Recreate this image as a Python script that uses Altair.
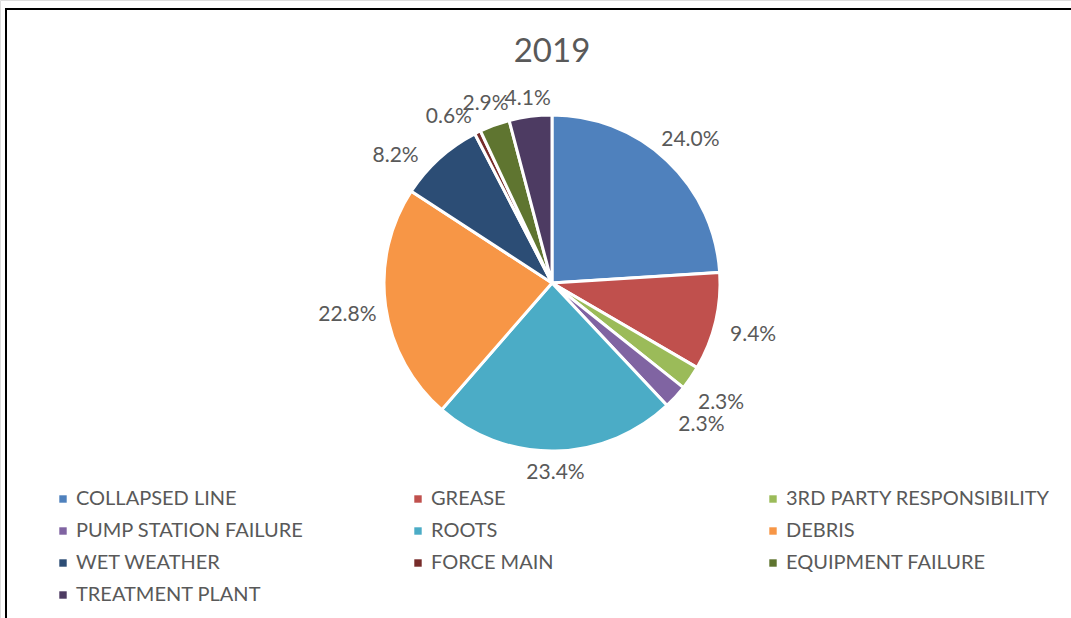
import altair as alt
import pandas as pd

categories = ["COLLAPSED LINE", "GREASE", "3RD PARTY RESPONSIBILITY",
              "PUMP STATION FAILURE", "ROOTS", "DEBRIS", "WET WEATHER",
              "FORCE MAIN", "EQUIPMENT FAILURE", "TREATMENT PLANT"]
values = [24.0, 9.4, 2.3, 2.3, 23.4, 22.8, 8.2, 0.6, 2.9, 4.1]
colors = ["#4F81BD", "#C0504D", "#9BBB59", "#8064A2", "#4BACC6",
          "#F79646", "#2C4D75", "#772C2A", "#5F7530", "#4D3B62"]
title_text = "2019"

df = pd.DataFrame({"category": categories, "value": values,
                   "idx": list(range(len(categories)))})

FONT = "Lato"
TXT = "#595959"
CX, CY = 552, 283
R = 168

pie = alt.Chart(df).mark_arc(outerRadius=R, stroke="white", strokeWidth=3).encode(
    theta=alt.Theta("value:Q", stack=True),
    order=alt.Order("idx:Q"),
    x=alt.value(CX), y=alt.value(CY),
    color=alt.Color(
        "category:N",
        scale=alt.Scale(domain=categories, range=colors),
        legend=alt.Legend(
            title=None, orient="none", legendX=53, legendY=489,
            direction="horizontal",
            columns=3, gridAlign="all", columnPadding=68, rowPadding=12,
            symbolType="square", symbolSize=55, symbolStrokeWidth=0,
            labelFont=FONT, labelFontSize=20, labelColor=TXT,
            labelLimit=400, labelOffset=3,
        ),
    ),
)

# label placement: outside end, pushed out by the text box extent;
# labels of very small slices and of their neighbours are pushed apart
labels = alt.Chart(df).transform_window(
    cum="sum(value)", sort=[alt.SortField("idx")], frame=[None, 0]
).transform_window(
    nextv="lead(value)", sort=[alt.SortField("idx")]
).transform_joinaggregate(
    total="sum(value)"
).transform_calculate(
    ang="360 * (datum.cum - datum.value / 2) / datum.total"
        " - (datum.value < 1 ? 5 : 0) - (datum.nextv != null && datum.nextv < 1 ? 8 : 0)",
).transform_calculate(
    rad=f"{R} + 12 + 26 * abs(sin(datum.ang * PI / 180)) + 6 * abs(cos(datum.ang * PI / 180))",
    label="format(datum.value, '.1f') + '%'",
).mark_text(font=FONT, fontSize=21, color=TXT, dy=4).encode(
    theta=alt.Theta("ang:Q", stack=None,
                    scale=alt.Scale(domain=[0, 360], range=[0, 6.283185307179586])),
    radius=alt.Radius("rad:Q", scale=None),
    x=alt.value(CX), y=alt.value(CY),
    text="label:N",
)

one = pd.DataFrame({"t": [title_text]})
frame_top = alt.Chart(one).mark_rule(color="black", strokeWidth=2).encode(
    x=alt.value(5), x2=alt.value(1071), y=alt.value(9))
frame_left = alt.Chart(one).mark_rule(color="black", strokeWidth=2).encode(
    x=alt.value(6), y=alt.value(8), y2=alt.value(618))

title = alt.Chart(one).mark_text(font=FONT, fontSize=33, color=TXT).encode(
    x=alt.value(CX), y=alt.value(52), text="t:N")

chart = alt.layer(pie, labels, frame_top, frame_left, title).resolve_scale(
    theta="independent", radius="independent"
).properties(
    width=1071, height=618, padding=0, autosize="none",
).configure_view(stroke=None).configure(background="white")

chart.save("out.html", embed_options={"renderer": "svg", "actions": False})
